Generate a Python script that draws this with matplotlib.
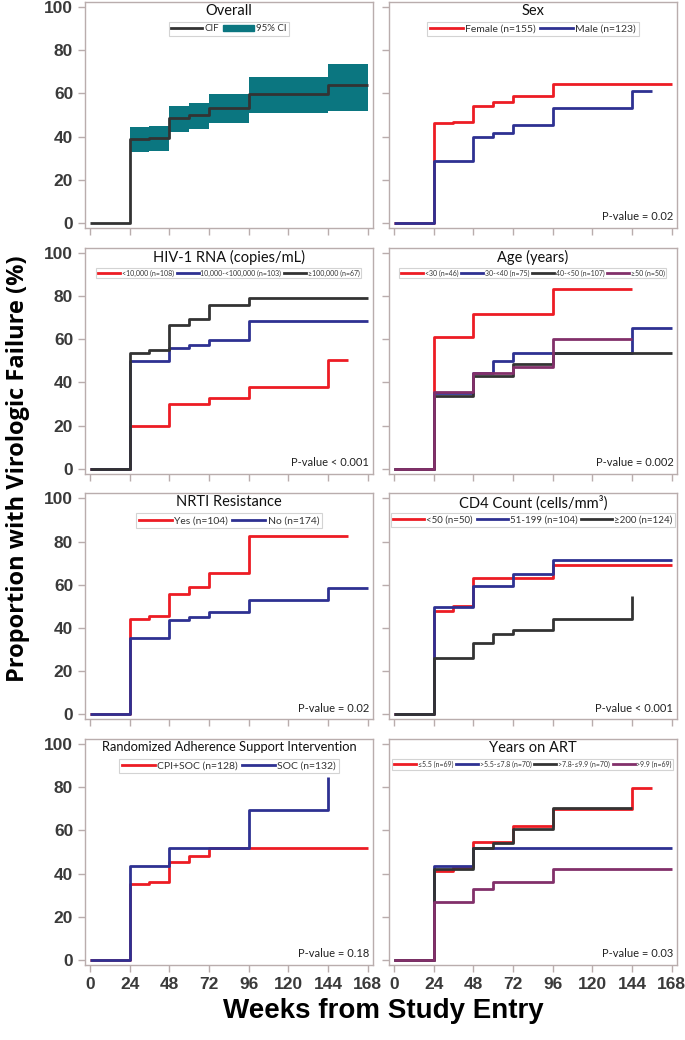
import numpy as np
import matplotlib
matplotlib.use("Agg")
import matplotlib.pyplot as plt
from matplotlib.patches import Patch
from matplotlib.lines import Line2D

# weeks and cumulative incidence (%)
week_ticks = [0, 24, 48, 72, 96, 120, 144, 168]

overall_t = [0, 24, 36, 48, 60, 72, 96, 144, 168]
overall_y = [0, 38.9, 39.6, 48.6, 50.1, 53.5, 59.9, 64.0, 64.0]
ci_t = [24, 36, 48, 60, 72, 96, 144, 168]
ci_lo = [33.0, 33.5, 42.3, 43.5, 46.4, 50.9, 52.0, 52.0]
ci_hi = [44.6, 45.0, 54.0, 55.8, 59.7, 67.6, 73.8, 73.8]

sex_f_t = [0, 24, 36, 48, 60, 72, 96, 168]
sex_f_y = [0, 46.3, 46.9, 54.3, 55.9, 58.8, 64.5, 64.5]
sex_m_t = [0, 24, 48, 60, 72, 96, 144, 156]
sex_m_y = [0, 28.6, 40.0, 41.5, 45.4, 53.2, 61.1, 61.1]

rna_lo_t = [0, 24, 48, 72, 96, 144, 156]
rna_lo_y = [0, 19.7, 30.2, 32.7, 38.0, 50.5, 50.5]
rna_mid_t = [0, 24, 48, 60, 72, 96, 168]
rna_mid_y = [0, 49.8, 55.8, 57.5, 59.5, 68.5, 68.5]
rna_hi_t = [0, 24, 36, 48, 60, 72, 96, 168]
rna_hi_y = [0, 53.4, 54.9, 66.7, 69.4, 75.6, 79.2, 79.2]

age1_t = [0, 24, 48, 96, 144]
age1_y = [0, 60.8, 71.8, 83.3, 83.3]
age2_t = [0, 24, 48, 60, 72, 144, 168]
age2_y = [0, 35.0, 44.1, 50.1, 53.5, 65.1, 65.1]
age3_t = [0, 24, 48, 72, 96, 168]
age3_y = [0, 33.8, 42.7, 48.7, 53.8, 53.8]
age4_t = [0, 24, 48, 72, 96, 144]
age4_y = [0, 35.6, 44.1, 46.9, 60.2, 60.2]

nrti_yes_t = [0, 24, 36, 48, 60, 72, 96, 156]
nrti_yes_y = [0, 44.1, 45.5, 55.8, 58.9, 65.6, 82.7, 82.7]
nrti_no_t = [0, 24, 48, 60, 72, 96, 144, 168]
nrti_no_y = [0, 35.5, 43.7, 44.9, 47.2, 52.9, 58.5, 58.5]

cd4_1_t = [0, 24, 36, 48, 96, 168]
cd4_1_y = [0, 47.8, 50.3, 63.0, 69.1, 69.1]
cd4_2_t = [0, 24, 48, 72, 96, 168]
cd4_2_y = [0, 49.8, 59.5, 65.0, 71.6, 71.6]
cd4_3_t = [0, 24, 48, 60, 72, 96, 144, 144]
cd4_3_y = [0, 26.2, 33.0, 37.2, 38.9, 44.1, 54.9, 54.9]

rand_cpi_t = [0, 24, 36, 48, 60, 72, 168]
rand_cpi_y = [0, 35.2, 36.0, 45.3, 48.1, 51.7, 51.7]
rand_soc_t = [0, 24, 48, 96, 144, 144]
rand_soc_y = [0, 43.3, 52.0, 69.6, 84.7, 84.7]

art1_t = [0, 24, 36, 48, 72, 96, 144, 156]
art1_y = [0, 41.2, 43.2, 54.5, 61.9, 70.0, 79.8, 79.8]
art2_t = [0, 24, 48, 168]
art2_y = [0, 43.3, 52.0, 52.0]
art3_t = [0, 24, 48, 60, 72, 96, 144]
art3_y = [0, 42.3, 51.8, 54.2, 60.8, 70.5, 70.5]
art4_t = [0, 24, 48, 60, 96, 168]
art4_y = [0, 26.7, 32.9, 36.0, 42.2, 42.2]

RED = "#ed1c24"
BLUE = "#2e3192"
DARK = "#333333"
PURPLE = "#82306a"
TEAL = "#0b7680"
FRAME = "#b9adad"

TXT = ["Lato", "DejaVu Sans"]
BOLD = ["Liberation Sans", "DejaVu Sans"]

panels = [
    dict(title="Overall", series=[(overall_t, overall_y, DARK, "CIF")], p=None, lfs=7.0, tfs=10.5),
    dict(title="Sex", series=[(sex_f_t, sex_f_y, RED, "Female (n=155)"),
                              (sex_m_t, sex_m_y, BLUE, "Male (n=123)")],
         p="P-value = 0.02", lfs=7.5, tfs=10.5),
    dict(title="HIV-1 RNA (copies/mL)",
         series=[(rna_lo_t, rna_lo_y, RED, "<10,000 (n=108)"),
                 (rna_mid_t, rna_mid_y, BLUE, "10,000-<100,000 (n=103)"),
                 (rna_hi_t, rna_hi_y, DARK, "\u2265100,000 (n=67)")],
         p="P-value < 0.001", lfs=5.0, tfs=10.5),
    dict(title="Age (years)",
         series=[(age1_t, age1_y, RED, "<30 (n=46)"),
                 (age2_t, age2_y, BLUE, "30-<40 (n=75)"),
                 (age3_t, age3_y, DARK, "40-<50 (n=107)"),
                 (age4_t, age4_y, PURPLE, "\u226550 (n=50)")],
         p="P-value = 0.002", lfs=5.0, tfs=10.5),
    dict(title="NRTI Resistance",
         series=[(nrti_yes_t, nrti_yes_y, RED, "Yes (n=104)"),
                 (nrti_no_t, nrti_no_y, BLUE, "No (n=174)")],
         p="P-value = 0.02", lfs=7.5, tfs=10.5),
    dict(title="CD4 Count (cells/mm\u00b3)",
         series=[(cd4_1_t, cd4_1_y, RED, "<50 (n=50)"),
                 (cd4_2_t, cd4_2_y, BLUE, "51-199 (n=104)"),
                 (cd4_3_t, cd4_3_y, DARK, "\u2265200 (n=124)")],
         p="P-value < 0.001", lfs=7.0, tfs=10.5),
    dict(title="Randomized Adherence Support Intervention",
         series=[(rand_cpi_t, rand_cpi_y, RED, "CPI+SOC (n=128)"),
                 (rand_soc_t, rand_soc_y, BLUE, "SOC (n=132)")],
         p="P-value = 0.18", lfs=7.5, tfs=9.3),
    dict(title="Years on ART",
         series=[(art1_t, art1_y, RED, "\u22645.5 (n=69)"),
                 (art2_t, art2_y, BLUE, ">5.5-\u22647.8 (n=70)"),
                 (art3_t, art3_y, DARK, ">7.8-\u22649.9 (n=70)"),
                 (art4_t, art4_y, PURPLE, ">9.9 (n=69)")],
         p="P-value = 0.03", lfs=5.0, tfs=10.5),
]

fig, axes = plt.subplots(4, 2, figsize=(6.85, 10.4), dpi=100)
fig.subplots_adjust(left=0.124, right=0.988, top=0.998, bottom=0.0721,
                    hspace=0.087, wspace=0.056)

for i, (ax, pn) in enumerate(zip(axes.flat, panels)):
    row, col = divmod(i, 2)
    if i == 0:
        ax.fill_between(ci_t, ci_lo, ci_hi, step="post", color=TEAL, lw=0)
    handles = []
    for t, y, c, lab in pn["series"]:
        ax.step(t, y, where="post", color=c, lw=2.0, solid_capstyle="butt")
        handles.append(Line2D([], [], color=c, lw=2.0, label=lab))
    if i == 0:
        handles.append(Patch(color=TEAL, label="95% CI"))

    ax.set_xlim(-3, 171)
    ax.set_ylim(-2.3, 102.3)
    ax.set_xticks(week_ticks)
    ax.set_yticks([0, 20, 40, 60, 80, 100])
    for s in ax.spines.values():
        s.set_color(FRAME)
        s.set_linewidth(1.0)
    ax.tick_params(direction="out", length=5, width=1, color=FRAME,
                   labelcolor="#3a3a3a", labelsize=12.5)
    for lbl in ax.get_xticklabels() + ax.get_yticklabels():
        lbl.set_family(BOLD)
        lbl.set_fontweight("bold")
    if row < 3:
        ax.set_xticklabels([])
    if col == 1:
        ax.set_yticklabels([])

    ax.text(0.5, 0.992, pn["title"], transform=ax.transAxes, ha="center",
            va="top", fontsize=pn["tfs"], family=TXT, color="#111111")
    leg = ax.legend(handles=handles, loc="upper center", bbox_to_anchor=(0.5, 0.912),
                    ncol=len(handles), frameon=True,
                    fancybox=False, handlelength=3.2, handletextpad=0.2,
                    columnspacing=0.4, borderpad=0.25, borderaxespad=0,
                    prop={"family": TXT, "size": pn["lfs"]})
    leg.get_frame().set_edgecolor("#c8c8c8")
    leg.get_frame().set_linewidth(0.8)
    for tx in leg.get_texts():
        tx.set_color("#333333")
    if pn["p"]:
        ax.text(0.988, 0.025, pn["p"], transform=ax.transAxes, ha="right",
                va="bottom", fontsize=8, family=TXT, color="#222222")

fig.text(0.026, 0.549, "Proportion with Virologic Failure (%)", rotation=90,
         ha="center", va="center", fontsize=17, fontweight="bold",
         family=["Open Sans", "DejaVu Sans"])
fig.text(0.559, 0.028, "Weeks from Study Entry", ha="center", va="center",
         fontsize=20, fontweight="bold", family=BOLD)

fig.savefig("out.png", dpi=100)
